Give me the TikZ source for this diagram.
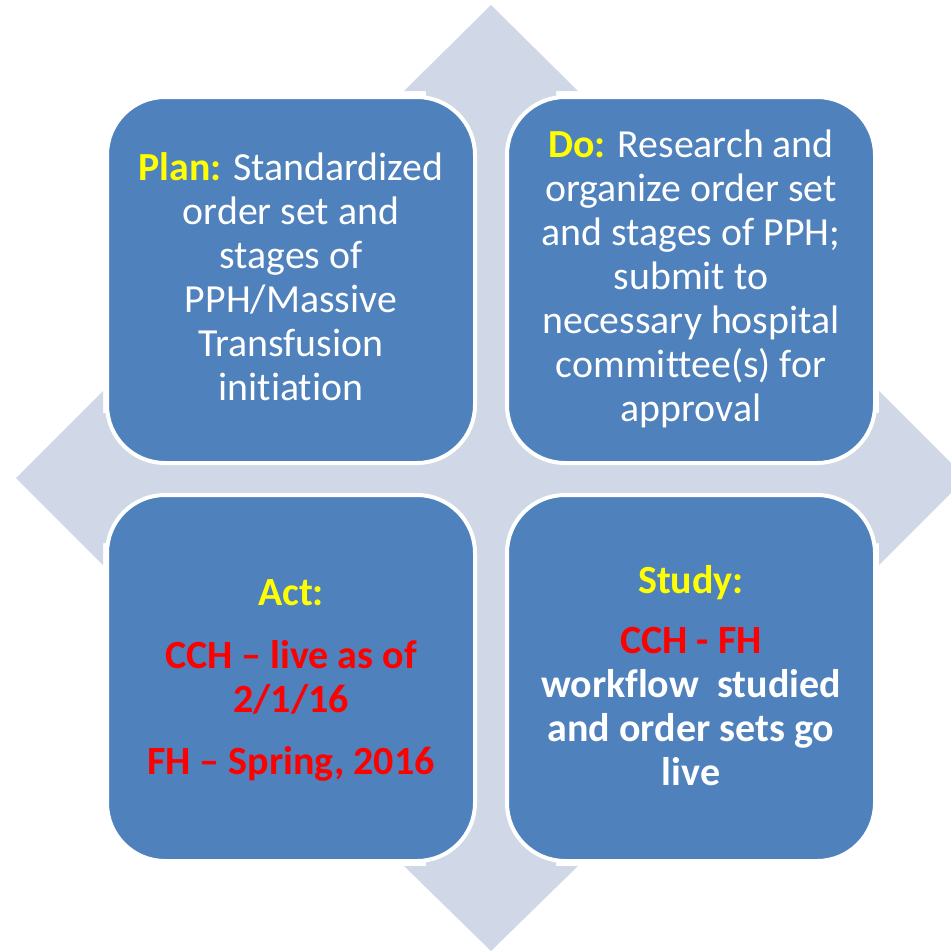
\documentclass[tikz,border=0pt]{standalone}
\usepackage{fontspec}
\setmainfont{Carlito}[Ligatures={NoCommon,NoRequired,NoContextual}]
\definecolor{boxblue}{HTML}{4F81BD}
\definecolor{arrowfill}{HTML}{D0D8E8}
\definecolor{lblyellow}{HTML}{FFFF00}
\definecolor{lblred}{HTML}{FF0000}
\begin{document}
\begin{tikzpicture}[x=1pt,y=-1pt,
  quad/.style={draw=white, line width=4pt, fill=boxblue, rounded corners=58pt,
    minimum width=368pt, minimum height=366pt, inner sep=0pt},
  txt/.style={text=white, font=\fontsize{39.8}{44}\selectfont, align=flush center,
    text width=370pt, inner sep=0pt, anchor=base},
  boldtxt/.style={txt, font=\fontsize{40}{44}\selectfont\bfseries},
]
\useasboundingbox (0,0) rectangle (951,951);
\fill[white] (0,0) rectangle (951,951);
\begin{scope}
\clip (0,0) rectangle (951,951);
\fill[arrowfill] (491,5) -- (578,91) -- (556,91) -- (556,413) -- (879,413) -- (879,391)
  -- (966,478) -- (879,565) -- (879,543) -- (556,543) -- (556,866) -- (578,866)
  -- (491,951) -- (404,866) -- (426,866) -- (426,543) -- (103,543) -- (103,565)
  -- (16,478) -- (103,391) -- (103,413) -- (426,413) -- (426,91) -- (404,91) -- cycle;
\end{scope}
\node[quad] (plan) at (291,280) {};
\node[quad] (do) at (691,280) {};
\node[quad] (act) at (291,678) {};
\node[quad] (study) at (691,678) {};

\node[txt] (plantext) at (291,180) {\textbf{\textcolor{lblyellow}{Plan:}} Standardized\\order set and\\stages of\\PPH/Massive\\Transfusion\\initiation};
\node[txt] (dotext) at (691,157) {\textbf{\textcolor{lblyellow}{Do:}} Research and\\organize order set\\and stages of PPH;\\submit to\\necessary hospital\\committee(s) for\\approval};
\node[boldtxt] (acttext) at (291,605) {\textcolor{lblyellow}{Act:}\\[19pt]\textcolor{lblred}{CCH – live as of}\\\textcolor{lblred}{2/1/16}\\[18pt]\textcolor{lblred}{FH – Spring, 2016}};
\node[boldtxt] (studytext) at (691,593) {\textcolor{lblyellow}{Study:}\\[16pt]\textcolor{lblred}{CCH - FH}\\workflow\ \ studied\\and order sets go\\live};
\end{tikzpicture}
\end{document}
